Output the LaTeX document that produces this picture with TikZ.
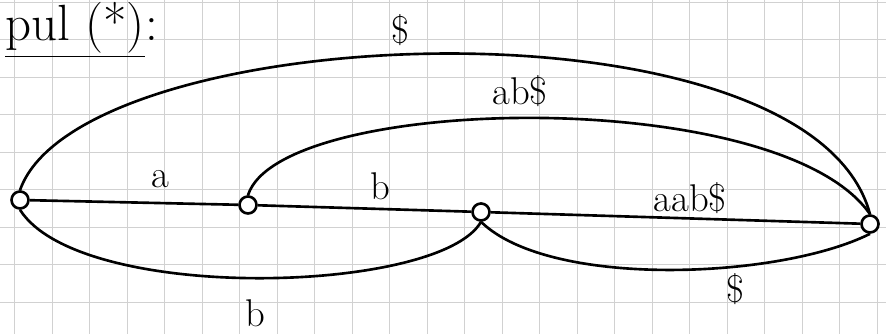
\documentclass[tikz,border=0pt]{standalone}
\begin{document}
\begin{tikzpicture}[
    every node/.style={font=\fontsize{22}{26}\selectfont},
    vertex/.style={
        draw=black,
        line width=1.5pt,
        circle,
        inner sep=0pt,
        minimum size=0.34cm,
        fill=white
    },
    stroke/.style={line width=1.5pt, black},
    gridline/.style={black!18, line width=0.5pt}
]

\useasboundingbox (0,0) rectangle (17.72,6.68);

% ---------- squared paper ----------
\foreach \i in {0,...,23}{
    \draw[gridline] (0.29+\i*0.75,0) -- ++(0,6.68);
}
\foreach \j in {0,...,8}{
    \draw[gridline] (0,0.64+\j*0.75) -- ++(17.72,0);
}

% heading
\node[anchor=base west, inner sep=0pt, font=\fontsize{29}{33}\selectfont] (title) at (0.1,5.86) {\underline{pul (*)}:};

% ---------- the four states ----------
\node[vertex] (s1) at (0.40,2.68) {};
\node[vertex] (s2) at (4.96,2.58) {};
\node[vertex] (s3) at (9.62,2.44) {};
\node[vertex] (s4) at (17.40,2.20) {};

% straight edges
\draw[stroke] (s1) -- (s2);
\draw[stroke] (s2) -- (s3);
\draw[stroke] (s3) -- (s4);
\node (la) at (3.2,3.1) {a};
\node (lb) at (7.6,2.95) {b};
\node (laab) at (13.8,2.72) {aab\$};

% ---------- arcs above ----------
\draw[stroke] (s1.north) .. controls (1.6,6.3) and (16.2,6.9) .. (s4.north);
\node (ldollar) at (8.0,6.08) {\$};
\draw[stroke] (s2.north) .. controls (5.6,4.8) and (15.6,5.0) .. (s4.north);
\node (labd) at (10.4,4.85) {ab\$};

% ---------- arcs below ----------
\draw[stroke] (s1.south) .. controls (1.6,0.6) and (8.8,0.8) .. (s3.south);
\node (lbb) at (5.1,0.42) {b};
\draw[stroke] (s3.south) .. controls (11.0,0.9) and (15.6,1.1) .. (s4.south);
\node (ldd) at (14.7,0.9) {\$};

\end{tikzpicture}
\end{document}
